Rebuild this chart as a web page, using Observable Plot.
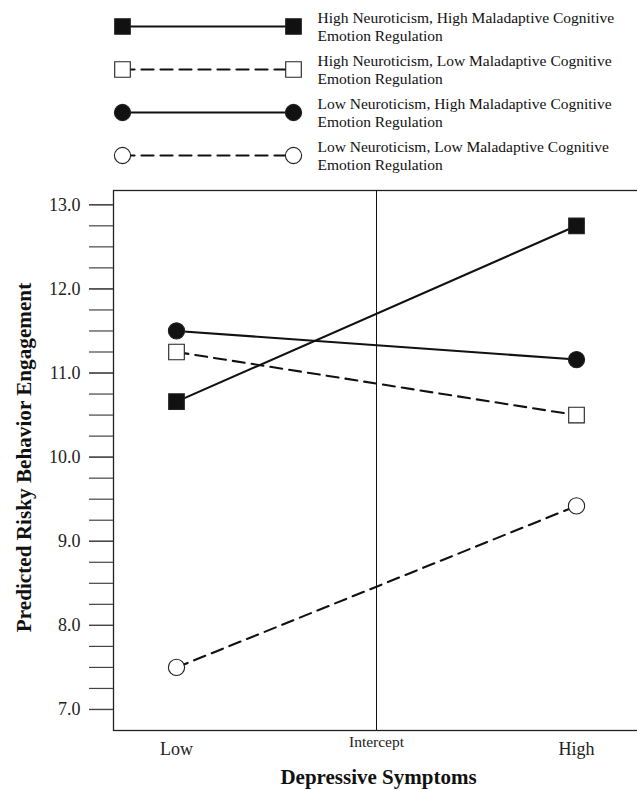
<!DOCTYPE html>
<html>
<head>
<meta charset="utf-8">
<script src="https://cdn.jsdelivr.net/npm/d3@7"></script>
<script src="https://cdn.jsdelivr.net/npm/@observablehq/plot@0.6"></script>
<style>
  html, body { margin: 0; padding: 0; background: white; }
  #chart svg { display: block; }
</style>
</head>
<body>
<div id="chart"></div>
<script>
// ---- data ----
const xCategories = ["Low", "Intercept", "High"];
const levels = ["Low", "High"];
const seriesNames = [
  "High Neuroticism, High Maladaptive Cognitive Emotion Regulation",
  "High Neuroticism, Low Maladaptive Cognitive Emotion Regulation",
  "Low Neuroticism, High Maladaptive Cognitive Emotion Regulation",
  "Low Neuroticism, Low Maladaptive Cognitive Emotion Regulation"
];
const highNeuroHighMal = [10.66, 12.75];
const highNeuroLowMal  = [11.25, 10.50];
const lowNeuroHighMal  = [11.50, 11.16];
const lowNeuroLowMal   = [7.50, 9.42];
const yTickLabels = [7, 8, 9, 10, 11, 12, 13];
const yMinorTicks = [7, 7.25, 7.5, 7.75, 8, 8.25, 8.5, 8.75, 9, 9.25, 9.5, 9.75, 10, 10.25, 10.5, 10.75, 11, 11.25, 11.5, 11.75, 12, 12.25, 12.5, 12.75, 13];
const yTitle = "Predicted Risky Behavior Engagement";
const xTitle = "Depressive Symptoms";

// ---- styles per series ----
const styles = [
  {symbol: "square", fill: "#111", dash: null, r: 8.8},
  {symbol: "square", fill: "white", dash: "12,7", r: 8.8},
  {symbol: "circle", fill: "#111", dash: null, r: 8.1},
  {symbol: "circle", fill: "white", dash: "12,7", r: 8.1}
];
const values = [highNeuroHighMal, highNeuroLowMal, lowNeuroHighMal, lowNeuroLowMal];
const table = seriesNames.map((name, i) => levels.map((lv, j) => ({series: name, level: lv, value: values[i][j]})));

const font = "'Liberation Serif', 'Times New Roman', serif";

// ---- legend ----
const legendMarks = [];
seriesNames.forEach((name, i) => {
  const s = styles[i];
  const pts = levels.map(lv => ({series: name, level: lv}));
  legendMarks.push(Plot.line(pts, {x: "level", y: "series", stroke: "#111", strokeWidth: 2.2, strokeDasharray: s.dash}));
  legendMarks.push(Plot.dot(pts, {x: "level", y: "series", symbol: () => s.symbol, r: s.r, fill: s.fill, stroke: "#222", strokeWidth: 1.1}));
});
legendMarks.push(Plot.text(seriesNames, {
  x: () => "High", y: d => d, text: d => d.replace(" Emotion", "\nEmotion"),
  dx: 24, textAnchor: "start", fontSize: 15.5, lineHeight: 1.18, fill: "#111"
}));
const legend = Plot.plot({
  width: 637, height: 180, margin: 0,
  x: {type: "point", domain: levels, range: [122, 293], padding: 0, axis: null},
  y: {type: "point", domain: seriesNames, range: [25, 156], padding: 0, axis: null},
  symbol: {type: "identity"},
  style: {fontFamily: font, background: "white"},
  marks: legendMarks
});

// ---- main chart ----
const marks = [
  Plot.frame({stroke: "#222", strokeWidth: 1.3}),
  Plot.ruleX([xCategories[1]], {stroke: "#111", strokeWidth: 1}),
  Plot.axisY(yMinorTicks, {tickSize: 24, tickFormat: () => "", stroke: "#444", strokeWidth: 1.2, label: null}),
  Plot.axisY(yTickLabels, {tickSize: 24, tickPadding: 9, tickFormat: d3.format(".1f"), stroke: "#444", strokeWidth: 1.2, fontSize: 18, fill: "#222", label: null}),
  Plot.axisX(levels, {tickSize: 0, tickPadding: 12, fontSize: 18, fill: "#222", label: null}),
  Plot.axisX([xCategories[1]], {tickSize: 0, tickPadding: 5, fontSize: 15.5, fill: "#222", label: null}),
  Plot.text([yTitle], {frameAnchor: "left", textAnchor: "middle", rotate: -90, dx: -89, dy: -3, text: d => d, fontSize: 21.2, fontWeight: "bold", fill: "#111"}),
  Plot.text([xTitle], {frameAnchor: "bottom", dy: 53, dx: 2, text: d => d, fontSize: 21, fontWeight: "bold", fill: "#111"})
];
table.forEach((pts, i) => {
  const s = styles[i];
  marks.push(Plot.line(pts, {x: "level", y: "value", stroke: "#111", strokeWidth: 2.1, strokeDasharray: s.dash}));
});
table.forEach((pts, i) => {
  const s = styles[i];
  marks.push(Plot.dot(pts, {x: "level", y: "value", symbol: () => s.symbol, r: s.r, fill: s.fill, stroke: "#222", strokeWidth: 1.1}));
});

const chart = Plot.plot({
  width: 637, height: 610,
  marginTop: 10, marginBottom: 60, marginLeft: 113, marginRight: -2,
  x: {type: "point", domain: xCategories, padding: 0.31},
  y: {domain: [6.75, 13.17]},
  symbol: {type: "identity"},
  style: {fontFamily: font, background: "white", color: "#111"},
  marks
});

const root = document.getElementById("chart");
root.appendChild(legend);
root.appendChild(chart);
</script>
</body>
</html>
